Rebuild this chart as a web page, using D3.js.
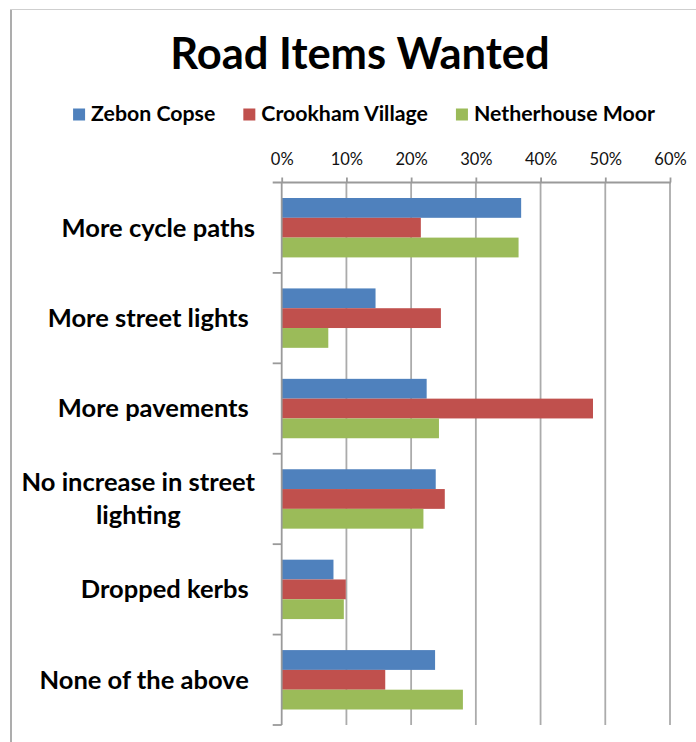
<!DOCTYPE html>
<html>
<head>
<meta charset="utf-8">
<script src="https://cdn.jsdelivr.net/npm/d3@7"></script>
<style>
  html, body { margin: 0; padding: 0; background: #fff; }
  svg { display: block; }
  text { font-family: Lato, "Open Sans", sans-serif; white-space: pre; }
</style>
</head>
<body>
<svg id="chart" width="696" height="742"></svg>
<script>
// ---- Data ----
const title = "Road Items Wanted";
const categories = [
  "More cycle paths",
  "More street lights ",
  "More pavements ",
  "No increase in street lighting",
  "Dropped kerbs ",
  "None of the above "
];
const seriesNames = ["Zebon Copse", "Crookham Village", "Netherhouse Moor"];
const zebonCopse       = [0.370, 0.145, 0.224, 0.238, 0.080, 0.237];
const crookhamVillage  = [0.215, 0.246, 0.481, 0.252, 0.099, 0.160];
const netherhouseMoor  = [0.366, 0.072, 0.243, 0.219, 0.096, 0.280];
const tickValues = [0, 0.1, 0.2, 0.3, 0.4, 0.5, 0.6];
const colors = ["#4F81BD", "#C0504D", "#9BBB59"];

const seriesValues = [zebonCopse, crookhamVillage, netherhouseMoor];
const rows = categories.map((c, i) => ({
  category: c,
  values: seriesNames.map((s, j) => ({ series: s, value: seriesValues[j][i] }))
}));

// ---- Layout ----
const svg = d3.select("#chart");
const plot = { left: 281.7, right: 670, top: 182.5, bottom: 725 };

// chart border (cropped on right/bottom)
svg.append("line").attr("x1", 11).attr("x2", 11).attr("y1", 9.5).attr("y2", 742)
  .attr("stroke", "#adadad").attr("stroke-width", 2);
svg.append("line").attr("x1", 10).attr("x2", 696).attr("y1", 9.5).attr("y2", 9.5)
  .attr("stroke", "#cfcfcf").attr("stroke-width", 1.2);

const x = d3.scaleLinear().domain([0, 0.6]).range([plot.left, plot.right]);
const y = d3.scaleBand().domain(categories).range([plot.top, plot.bottom]).padding(0);
const yInner = d3.scaleBand().domain(seriesNames).range([0, y.bandwidth()])
  .paddingInner(0).paddingOuter(0.783);

// gridlines
svg.append("g").selectAll("line").data(tickValues.slice(1)).join("line")
  .attr("x1", d => x(d)).attr("x2", d => x(d))
  .attr("y1", plot.top).attr("y2", plot.bottom)
  .attr("stroke", "#ababab").attr("stroke-width", 1.8);

// bars
const groups = svg.append("g").selectAll("g").data(rows).join("g")
  .attr("transform", d => `translate(0,${y(d.category)})`);
groups.selectAll("rect").data(d => d.values).join("rect")
  .attr("x", x(0))
  .attr("y", d => yInner(d.series))
  .attr("width", d => x(d.value) - x(0))
  .attr("height", yInner.bandwidth())
  .attr("fill", (d, i) => colors[i]);

// top axis
const xAxis = d3.axisTop(x).tickValues(tickValues).tickFormat(d3.format(".0%"))
  .tickSize(5).tickSizeOuter(0).tickPadding(13);
const gx = svg.append("g").attr("transform", `translate(0,${plot.top})`).call(xAxis);
gx.select(".domain").remove();
gx.selectAll(".tick line").attr("stroke", "#9a9a9a").attr("stroke-width", 1.8);
gx.selectAll(".tick text").attr("font-size", 16.5).attr("fill", "#111")
  .attr("font-family", "Lato, sans-serif");
svg.append("line").attr("x1", plot.left - 9).attr("x2", plot.right + 0.9)
  .attr("y1", plot.top).attr("y2", plot.top)
  .attr("stroke", "#9a9a9a").attr("stroke-width", 1.8);

// left axis (category boundaries)
svg.append("line").attr("x1", plot.left).attr("x2", plot.left)
  .attr("y1", plot.top).attr("y2", plot.bottom)
  .attr("stroke", "#9a9a9a").attr("stroke-width", 1.8);
const boundaries = categories.map(c => y(c) + y.bandwidth());
svg.append("g").selectAll("line").data(boundaries).join("line")
  .attr("x1", plot.left - 9).attr("x2", plot.left)
  .attr("y1", d => d).attr("y2", d => d)
  .attr("stroke", "#9a9a9a").attr("stroke-width", 1.8);

// category labels
const labelRight = 255;
const labelMaxWidth = 262;
const labelSize = 25.5;
const lineHeight = 33;
const labels = svg.append("g");
categories.forEach(c => {
  const words = c.trim().split(/\s+/);
  const probe = labels.append("text").attr("font-size", labelSize).attr("font-weight", 700);
  const lines = [];
  let cur = "";
  words.forEach(w => {
    const t = cur ? cur + " " + w : w;
    probe.text(t);
    if (probe.node().getComputedTextLength() > labelMaxWidth && cur) {
      lines.push(cur); cur = w;
    } else cur = t;
  });
  lines.push(cur);
  probe.remove();
  const cy = y(c) + y.bandwidth() / 2;
  if (lines.length === 1) {
    labels.append("text").text(c)
      .attr("x", labelRight).attr("y", cy)
      .attr("dy", "0.35em").attr("text-anchor", "end")
      .attr("font-size", labelSize).attr("font-weight", 700).attr("fill", "#000");
  } else {
    const widths = lines.map(l => {
      const t = labels.append("text").text(l).attr("font-size", labelSize).attr("font-weight", 700);
      const w = t.node().getComputedTextLength(); t.remove(); return w;
    });
    const blockW = d3.max(widths);
    const cx = labelRight - blockW / 2;
    lines.forEach((l, i) => {
      labels.append("text").text(l)
        .attr("x", cx)
        .attr("y", cy + (i - (lines.length - 1) / 2) * lineHeight)
        .attr("dy", "0.35em").attr("text-anchor", "middle")
        .attr("font-size", labelSize).attr("font-weight", 700).attr("fill", "#000");
    });
  }
});

// title
svg.append("text").text(title)
  .attr("x", 360).attr("y", 69).attr("text-anchor", "middle")
  .attr("font-size", 43.5).attr("font-weight", 700).attr("fill", "#000");

// legend
const legendSize = 21.3;
const legend = svg.append("g");
const items = seriesNames.map((s, i) => {
  const g = legend.append("g");
  g.append("rect").attr("x", 0).attr("y", -12.5).attr("width", 12).attr("height", 12)
    .attr("fill", colors[i]);
  const t = g.append("text").text(s).attr("x", 18).attr("y", 0)
    .attr("font-size", legendSize).attr("font-weight", 700).attr("fill", "#000");
  return { g, w: 18 + t.node().getComputedTextLength() };
});
const gap = 28;
const totalW = d3.sum(items, d => d.w) + gap * (items.length - 1);
let lx = 364 - totalW / 2;
items.forEach(it => {
  it.g.attr("transform", `translate(${lx},121)`);
  lx += it.w + gap;
});
</script>
</body>
</html>
